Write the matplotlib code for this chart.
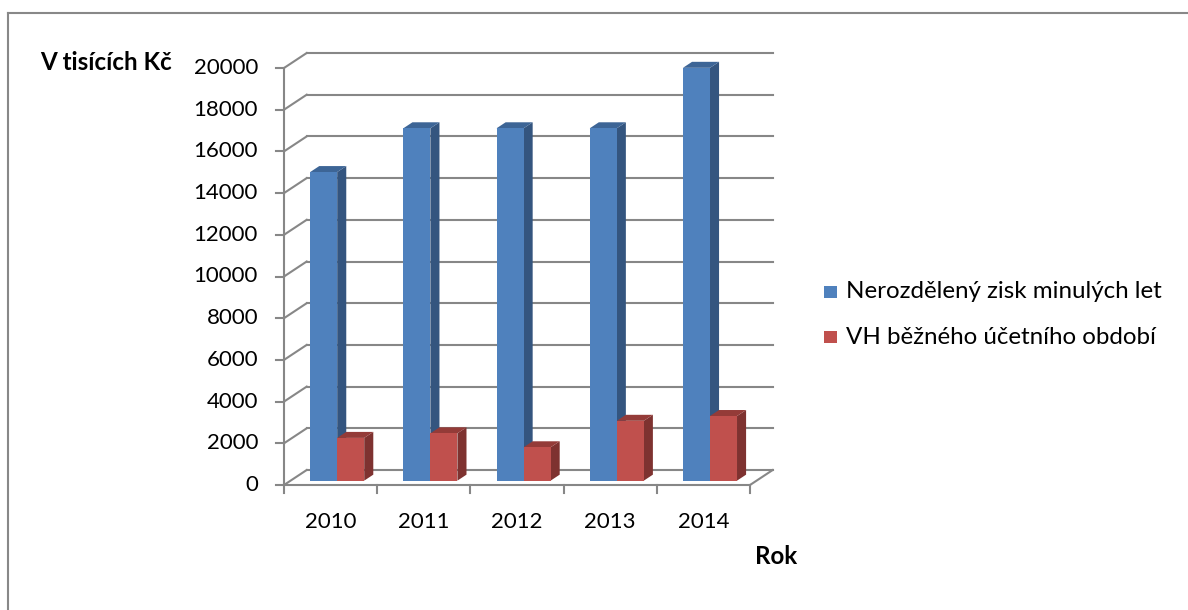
import matplotlib
matplotlib.use("Agg")
import matplotlib.pyplot as plt
from matplotlib.patches import Polygon, Rectangle
from matplotlib.lines import Line2D

# ---- data ----
years = ["2010", "2011", "2012", "2013", "2014"]
series_names = ["Nerozdělený zisk minulých let", "VH běžného účetního období"]
retained = [14800, 16900, 16900, 16900, 19800]
current = [2050, 2270, 1600, 2870, 3100]
y_ticks = list(range(0, 20001, 2000))
y_title = "V tisících Kč"
x_title = "Rok"

# ---- style / geometry ----
FONT = ["Lato", "DejaVu Sans"]
FS = 16      # numbers
FS_T = 17.4  # words
GRID = "#878787"
front_cols = ["#4F81BD", "#C0504D"]
side_cols = ["#34557F", "#7E3230"]
top_cols = ["#3D6596", "#943B38"]

W, H = 1188, 610
fig = plt.figure(figsize=(W / 100, H / 100), dpi=100)

# pixel scale: 93.2 px per category, 20.85 px per 1000
PX_X = 93.2
PX_Y = 20.85 / 1000
x0_px, y0_px = 284, 485  # front-left origin
ax_l, ax_r, ax_t, ax_b = 260, 800, 30, 505
ax = fig.add_axes([ax_l / W, (H - ax_b) / H, (ax_r - ax_l) / W, (ax_b - ax_t) / H])
ax.set_xlim((ax_l - x0_px) / PX_X, (ax_r - x0_px) / PX_X)
ax.set_ylim((y0_px - ax_b) / PX_Y, (y0_px - ax_t) / PX_Y)
ax.axis("off")

DX = 22.7 / PX_X     # depth offset in category units
DY = 15.0 / PX_Y     # depth offset in value units


def P(x, y, z):
    return (x + z * DX, y + z * DY)


n = len(years)
ymax = y_ticks[-1]
lw = 1.5
# back wall gridlines + left wall diagonals
for v in y_ticks:
    a, b = P(0, v, 1), P(n, v, 1)
    ax.add_line(Line2D([a[0], b[0]], [a[1], b[1]], color=GRID, lw=lw, zorder=1))
    c = P(0, v, 0)
    ax.add_line(Line2D([c[0], a[0]], [c[1], a[1]], color=GRID, lw=lw, zorder=1))
    # tick on front axis
    ax.add_line(Line2D([c[0] - 8 / PX_X, c[0]], [c[1], c[1]], color=GRID, lw=lw, zorder=1))
    ax.text(c[0] - 26 / PX_X, v, str(v), ha="right", va="center",
            fontsize=FS, family=FONT, color="black")

# front vertical axis
ax.add_line(Line2D([0, 0], [0, ymax], color=GRID, lw=lw, zorder=1))
# floor front edge and right diagonal
ax.add_line(Line2D([0, n], [0, 0], color=GRID, lw=lw, zorder=1))
a, b = P(n, 0, 0), P(n, 0, 1)
ax.add_line(Line2D([a[0], b[0]], [a[1], b[1]], color=GRID, lw=lw, zorder=1))
for i in range(n + 1):
    ax.add_line(Line2D([i, i], [0, -8 / PX_Y], color=GRID, lw=lw, zorder=1))
for i, yr in enumerate(years):
    ax.text(i + 0.5, -37 / PX_Y, yr, ha="center", va="center",
            fontsize=FS, family=FONT, color="black")

# bars
bw = 0.29
z0, z1 = 0.29, 0.69
order = 3
for i in range(n):
    for s, vals in enumerate([retained, current]):
        v = vals[i]
        xl = i + (1 - 2 * bw) / 2 + s * bw
        xr = xl + bw
        side = [P(xr, 0, z0), P(xr, v, z0), P(xr, v, z1), P(xr, 0, z1)]
        top = [P(xl, v, z0), P(xr, v, z0), P(xr, v, z1), P(xl, v, z1)]
        front = [P(xl, 0, z0), P(xr, 0, z0), P(xr, v, z0), P(xl, v, z0)]
        ax.add_patch(Polygon(side, closed=True, fc=side_cols[s], ec="none", zorder=order))
        ax.add_patch(Polygon(top, closed=True, fc=top_cols[s], ec="none", zorder=order))
        ax.add_patch(Polygon(front, closed=True, fc=front_cols[s], ec="none", zorder=order + 0.5))
        order += 1

# titles
fig.text(40 / W, 1 - 62 / H, y_title, fontsize=FS_T, fontweight="bold", family=FONT,
         ha="left", va="center")
fig.text(776 / W, 1 - 557 / H, x_title, fontsize=FS_T, fontweight="bold", family=FONT,
         ha="center", va="center")

# legend
for s, name in enumerate(series_names):
    yc = 292 + s * 45
    fig.patches.append(Rectangle((824 / W, 1 - (yc + 6) / H), 13 / W, 12 / H,
                                 transform=fig.transFigure, fc=front_cols[s], ec="none"))
    fig.text(846 / W, 1 - yc / H, name, fontsize=FS_T, family=FONT, ha="left", va="center")

# outer border (top and left visible)
fig.add_artist(Line2D([7.5 / W, 7.5 / W], [0, 1 - 12.5 / H], transform=fig.transFigure,
                      color="#888888", lw=1.5))
fig.add_artist(Line2D([7.5 / W, 1], [1 - 12.5 / H, 1 - 12.5 / H], transform=fig.transFigure,
                      color="#888888", lw=1.5))

fig.savefig("out.png", dpi=100)
